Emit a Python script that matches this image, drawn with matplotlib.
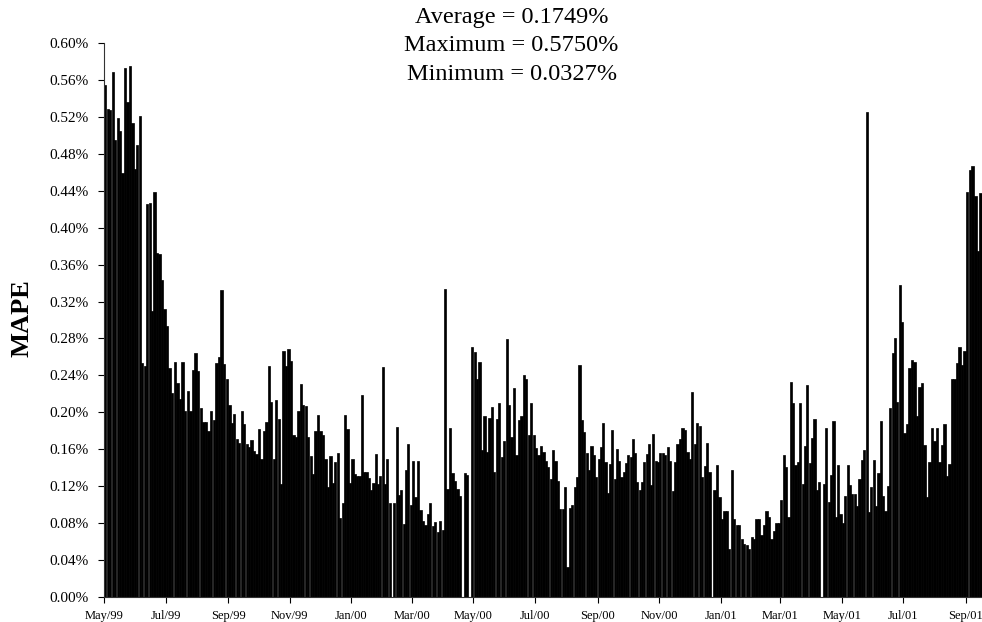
import matplotlib
matplotlib.use("Agg")
import matplotlib.pyplot as plt
import matplotlib.dates as mdates
from matplotlib.ticker import FuncFormatter, MultipleLocator
import numpy as np
import pandas as pd

# MAPE (%) per observation, grouped by two-month block
may99 = [0.554, 0.528, 0.527, 0.569, 0.495, 0.519, 0.505, 0.459, 0.573, 0.536,
         0.575, 0.513, 0.463, 0.489, 0.521, 0.254, 0.250, 0.426, 0.427, 0.310,
         0.439, 0.373, 0.371, 0.343, 0.312]
jul99 = [0.293, 0.248, 0.221, 0.255, 0.232, 0.214, 0.255, 0.202, 0.223, 0.202,
         0.246, 0.264, 0.245, 0.205, 0.190, 0.190, 0.180, 0.202, 0.192, 0.254,
         0.260, 0.332, 0.252, 0.236]
sep99 = [0.208, 0.188, 0.198, 0.171, 0.167, 0.202, 0.187, 0.166, 0.163, 0.170,
         0.158, 0.155, 0.182, 0.149, 0.180, 0.190, 0.250, 0.211, 0.150, 0.213,
         0.193, 0.123, 0.266, 0.250, 0.269]
nov99 = [0.256, 0.176, 0.173, 0.202, 0.231, 0.208, 0.207, 0.173, 0.153, 0.133,
         0.180, 0.197, 0.180, 0.176, 0.149, 0.119, 0.153, 0.124, 0.146, 0.156,
         0.086, 0.102, 0.197, 0.182, 0.124]
jan00 = [0.150, 0.133, 0.131, 0.131, 0.219, 0.136, 0.135, 0.129, 0.116, 0.124,
         0.155, 0.122, 0.131, 0.249, 0.122, 0.150, 0.102, 0.000, 0.102, 0.184,
         0.111, 0.116, 0.079, 0.138, 0.166, 0.100]
mar00 = [0.147, 0.108, 0.147, 0.094, 0.082, 0.078, 0.090, 0.102, 0.077, 0.081,
         0.070, 0.082, 0.073, 0.334, 0.117, 0.183, 0.134, 0.126, 0.117, 0.110,
         0.000, 0.134, 0.132, 0.000, 0.271]
may00 = [0.265, 0.236, 0.255, 0.159, 0.196, 0.157, 0.194, 0.206, 0.136, 0.193,
         0.210, 0.152, 0.169, 0.279, 0.208, 0.173, 0.226, 0.154, 0.192, 0.196,
         0.241, 0.236, 0.175, 0.210, 0.175]
jul00 = [0.161, 0.154, 0.164, 0.157, 0.147, 0.141, 0.128, 0.159, 0.147, 0.126,
         0.095, 0.095, 0.119, 0.0327, 0.097, 0.100, 0.119, 0.130, 0.251, 0.192,
         0.179, 0.156, 0.138, 0.164, 0.154, 0.130]
sep00 = [0.150, 0.162, 0.189, 0.146, 0.113, 0.144, 0.181, 0.128, 0.160, 0.147,
         0.130, 0.136, 0.145, 0.154, 0.152, 0.171, 0.156, 0.125, 0.116, 0.125,
         0.146, 0.155, 0.166, 0.121, 0.177, 0.147, 0.146]
nov00 = [0.156, 0.156, 0.154, 0.162, 0.147, 0.115, 0.146, 0.166, 0.171, 0.183,
         0.181, 0.157, 0.150, 0.222, 0.166, 0.189, 0.185, 0.130, 0.142, 0.167,
         0.135, 0.000, 0.116, 0.143, 0.108]
jan01 = [0.085, 0.093, 0.093, 0.052, 0.138, 0.085, 0.078, 0.078, 0.063, 0.058,
         0.056, 0.052, 0.065, 0.063, 0.085, 0.085, 0.067, 0.078, 0.093, 0.087,
         0.063, 0.072, 0.080, 0.080]
mar01 = [0.105, 0.154, 0.141, 0.087, 0.233, 0.210, 0.143, 0.146, 0.210, 0.123,
         0.164, 0.230, 0.145, 0.172, 0.193, 0.116, 0.125, 0.000, 0.123, 0.183,
         0.103, 0.132, 0.191, 0.087, 0.143, 0.090]
may01 = [0.080, 0.110, 0.143, 0.121, 0.112, 0.112, 0.099, 0.128, 0.148, 0.159,
         0.525, 0.092, 0.119, 0.148, 0.099, 0.134, 0.191, 0.109, 0.093, 0.120,
         0.205, 0.264, 0.280, 0.211, 0.338, 0.298]
jul01 = [0.178, 0.187, 0.248, 0.257, 0.255, 0.196, 0.228, 0.232, 0.165, 0.108,
         0.146, 0.183, 0.169, 0.183, 0.146, 0.165, 0.187, 0.131, 0.144, 0.236,
         0.236, 0.253, 0.271, 0.251, 0.267]
sep01 = [0.439, 0.462, 0.467, 0.434, 0.375, 0.437]

blocks = [may99, jul99, sep99, nov99, jan00, mar00, may00, jul00,
          sep00, nov00, jan01, mar01, may01, jul01, sep01]
block_starts = pd.date_range("1999-05-01", periods=len(blocks), freq="2MS")
last_day = pd.Timestamp("2001-09-17")

stats = ["Average = 0.1749%", "Maximum = 0.5750%", "Minimum = 0.0327%"]

plt.rcParams["font.family"] = ["Liberation Serif", "DejaVu Serif"]

fig = plt.figure(figsize=(9.82, 6.22), dpi=100)
ax = fig.add_axes([0.106, 0.040, 0.894, 0.891])

edges = list(mdates.date2num(block_starts)) + [mdates.date2num(last_day)]
for vals, lo, hi in zip(blocks, edges[:-1], edges[1:]):
    step = (hi - lo) / len(vals)
    xs = lo + step * (np.arange(len(vals)) + 0.5)
    ax.bar(xs, vals, width=step * 0.92, color="black",
           edgecolor="black", linewidth=0.5)

ax.set_xlim(edges[0], edges[-1])
ax.set_ylim(0, 0.60)
ax.yaxis.set_major_locator(MultipleLocator(0.04))
ax.yaxis.set_major_formatter(FuncFormatter(lambda v, _: f"{v:.2f}%"))
ax.xaxis.set_major_locator(mdates.MonthLocator(bymonth=[1, 3, 5, 7, 9, 11]))
ax.xaxis.set_major_formatter(mdates.DateFormatter("%b/%y"))

ax.tick_params(axis="y", labelsize=11, length=4, width=0.8, pad=7)
ax.tick_params(axis="x", labelsize=9, length=4, width=0.8, pad=5.5)

for side in ["top", "right"]:
    ax.spines[side].set_visible(False)
for side in ["left", "bottom"]:
    ax.spines[side].set_linewidth(0.8)
    ax.spines[side].set_color("#333333")

fig.text(22 / 982, 1 - 318 / 622, "MAPE", rotation=90, fontsize=19,
         fontweight="bold", ha="center", va="center")

for i, line in enumerate(stats):
    fig.text(0.521, 1 - (17 + 28.5 * i) / 622, line, fontsize=17.5,
             ha="center", va="center")

fig.savefig("out.png", dpi=100)
